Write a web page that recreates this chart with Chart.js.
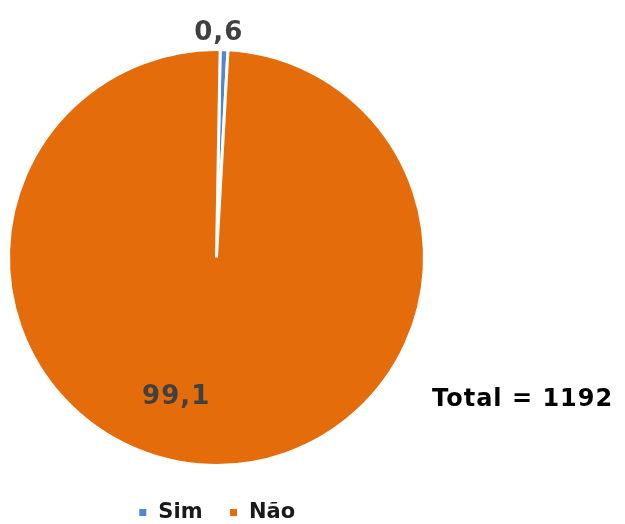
<!DOCTYPE html>
<html>
<head>
<meta charset="utf-8">
<script src="https://cdn.jsdelivr.net/npm/chart.js@4/dist/chart.umd.min.js"></script>
<style>
  html, body { margin: 0; padding: 0; background: #fff; }
  #wrap { width: 625px; height: 524px; }
</style>
</head>
<body>
<div id="wrap"><canvas id="chart"></canvas></div>
<script>
// data
const categories = ["Sim", "Não"];
const values = [0.6, 99.1];
const valueLabels = ["0,6", "99,1"];
const sliceColors = ["#4f86d6", "#e46c0a"];
const totalText = "Total = 1192";

// where each value label sits: fraction of radius and extra turn (degrees)
const labelSpots = [
  { r: 1.08, turn: -1.5 },
  { r: 0.70, turn: 14 }
];

const valueLabelPlugin = {
  id: "valueLabels",
  afterDatasetsDraw(chart) {
    const ctx = chart.ctx;
    const meta = chart.getDatasetMeta(0);
    ctx.save();
    ctx.font = "bold 26px 'DejaVu Sans', Verdana, sans-serif";
    ctx.letterSpacing = "1px";
    ctx.fillStyle = "#404040";
    ctx.textAlign = "center";
    ctx.textBaseline = "middle";
    meta.data.forEach((arc, i) => {
      const p = arc.getProps(["x", "y", "startAngle", "endAngle", "outerRadius"], true);
      const mid = (p.startAngle + p.endAngle) / 2 + labelSpots[i].turn * Math.PI / 180;
      const rr = p.outerRadius * labelSpots[i].r;
      ctx.fillText(valueLabels[i], p.x + Math.cos(mid) * rr, p.y + Math.sin(mid) * rr);
    });
    // total note on the right
    ctx.font = "bold 24px 'DejaVu Sans', Verdana, sans-serif";
    ctx.letterSpacing = "1px";
    ctx.fillStyle = "#000";
    ctx.textAlign = "left";
    ctx.fillText(totalText, 432, 400);
    ctx.restore();
  }
};

new Chart(document.getElementById("chart"), {
  type: "pie",
  data: {
    labels: categories,
    datasets: [{
      data: values,
      backgroundColor: sliceColors,
      borderColor: "#ffffff",
      borderWidth: 3
    }]
  },
  options: {
    responsive: true,
    maintainAspectRatio: false,
    animation: false,
    rotation: 1,
    layout: { padding: { top: 39, left: 7, right: 199, bottom: -9 } },
    plugins: {
      tooltip: { enabled: false },
      legend: {
        position: "bottom",
        labels: {
          boxWidth: 10,
          boxHeight: 10,
          padding: 26,
          color: "#1a1a1a",
          font: { family: "'DejaVu Sans', Verdana, sans-serif", size: 21, weight: "bold" }
        }
      }
    }
  },
  plugins: [valueLabelPlugin]
});
</script>
</body>
</html>
